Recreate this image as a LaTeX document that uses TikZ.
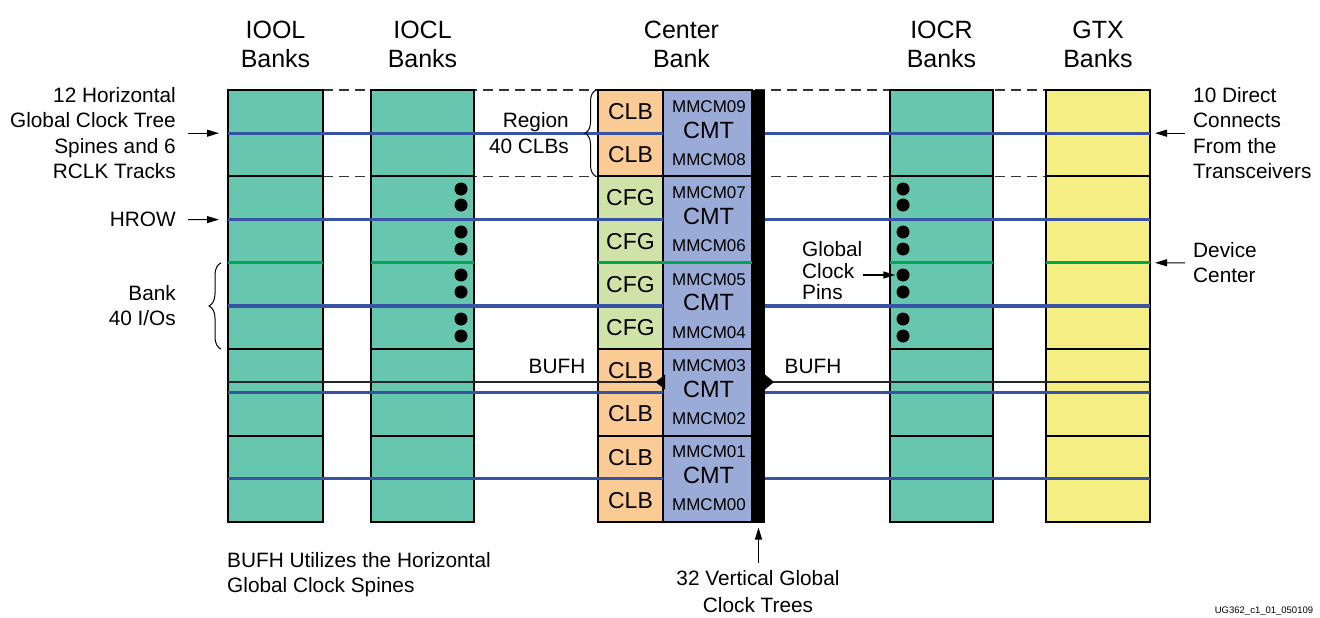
\documentclass[tikz,border=0pt]{standalone}
\usepackage{fontspec}
\setmainfont{Liberation Sans}
\usetikzlibrary{arrows.meta,decorations.pathreplacing}
\pgfdeclarelayer{bg}
\pgfsetlayers{bg,main}
\definecolor{iofill}{HTML}{66C6AE}
\definecolor{gtxfill}{HTML}{F5EE82}
\definecolor{clbfill}{HTML}{FBCB96}
\definecolor{cfgfill}{HTML}{CFE3A9}
\definecolor{cmtfill}{HTML}{9BABD7}
\definecolor{spinecol}{HTML}{3953A4}
\definecolor{devgreen}{HTML}{00A651}
\tikzset{
  bankcell/.style={draw=black, line width=2pt, minimum height=86.4pt, inner sep=0pt, outer sep=0pt},
  clbcell/.style={draw=black, line width=2pt, minimum width=65pt, minimum height=43.2pt, inner sep=0pt, outer sep=0pt, font=\fontsize{23}{27}\selectfont},
  cmtcell/.style={draw=black, line width=2pt, fill=cmtfill, minimum width=89pt, minimum height=86.4pt, inner sep=0pt, outer sep=0pt},
  mmcm/.style={inner sep=0pt, font=\fontsize{17}{20}\selectfont},
  cmtlab/.style={inner sep=0pt, font=\fontsize{23.5}{27}\selectfont},
  spineline/.style={draw=spinecol, line width=3.2pt},
  centerline/.style={draw=devgreen, line width=3.2pt},
  bufhline/.style={draw=black!85, line width=1.3pt},
  regdash/.style={draw=black!80, line width=1.1pt, dash pattern=on 10pt off 6pt},
  arr/.style={draw=black, line width=1.1pt, -{Triangle[length=12pt,width=7pt]}},
  lbl/.style={inner sep=0pt, font=\fontsize{20.8}{25.5}\selectfont},
  hdr/.style={inner sep=0pt, align=center, font=\fontsize{25}{29}\selectfont},
  pindot/.style={circle, fill=black, minimum size=13pt, inner sep=0pt},
  bracedeco/.style={draw=black, line width=1pt, decorate, decoration={brace, amplitude=#1}}
}
\begin{document}
\begin{tikzpicture}[x=1pt,y=-1pt]
\useasboundingbox (0,0) rectangle (1320,618);

% headers
\node[hdr] (h-ool) at (275.5,44.5) {IOOL\\Banks};
\node[hdr] (h-ocl) at (422.5,44.5) {IOCL\\Banks};
\node[hdr] (h-ctr) at (681.5,44.5) {Center\\Bank};
\node[hdr] (h-ocr) at (941.5,44.5) {IOCR\\Banks};
\node[hdr] (h-gtx) at (1098,44.5) {GTX\\Banks};

% bank columns
\foreach \nm/\cx/\w/\col in {ool/275.5/95/iofill, ocl/422.5/103/iofill, ocr/941.5/103/iofill, gtx/1098/104/gtxfill}{
  \foreach \r in {0,...,4}{
    \node[bankcell, minimum width=\w pt, fill=\col] (\nm-\r) at (\cx,{133.2+86.4*\r}) {};
  }
}

% center bank: CLB / CFG column
\foreach \i/\lab/\col in {0/CLB/clbfill,1/CLB/clbfill,2/CFG/cfgfill,3/CFG/cfgfill,4/CFG/cfgfill,5/CFG/cfgfill,6/CLB/clbfill,7/CLB/clbfill,8/CLB/clbfill,9/CLB/clbfill}{
  \node[clbcell, fill=\col] (clb-\i) at (630.5,{111.6+43.2*\i}) {\lab};
}
% CMT column
\foreach \r/\a/\b in {0/09/08,1/07/06,2/05/04,3/03/02,4/01/00}{
  \node[cmtcell] (cmt-\r) at (707.5,{133.2+86.4*\r}) {};
  \node[mmcm] (mm-\a) at (709,{106.5+86.4*\r}) {MMCM\a};
  \node[cmtlab] (cmtl-\r) at (708.5,{130+86.4*\r}) {CMT};
  \node[mmcm] (mm-\b) at (709,{159.5+86.4*\r}) {MMCM\b};
}

% region dashed lines (behind)
\begin{pgfonlayer}{bg}
  \draw[regdash] (ool-0.north east) -- (gtx-0.north west);
  \draw[regdash] (ool-0.south east) -- (gtx-0.south west);
\end{pgfonlayer}

% horizontal spines
\foreach \r in {0,...,4}{
  \draw[spineline] (ool-\r.west) -- (cmt-\r.west);
  \draw[spineline] (cmt-\r.east) -- (gtx-\r.east);
}

% device center line
\draw[centerline] (ool-1.south west) -- (ool-1.south east);
\draw[centerline] (ocl-1.south west) -- (ocl-1.south east);
\draw[centerline] (clb-3.south west) -- (cmt-1.south east);
\draw[centerline] (ocr-1.south west) -- (ocr-1.south east);
\draw[centerline] (gtx-1.south west) -- (gtx-1.south east);

% vertical global clock trees bar
\node[fill=black, minimum width=13pt, minimum height=433pt, inner sep=0pt, outer sep=0pt] (gbar) at (758.5,306) {};

% BUFH lines
\coordinate (bufhl) at (663.5,382);
\coordinate (bufhr) at (765,382);
\draw[bufhline] (ool-3.west |- bufhl) -- (bufhl);
\draw[bufhline] (bufhr) -- (gtx-3.east |- bufhr);
\fill[black] (bufhl) ++(1.5,-7.5) -- ++(-9.5,7.5) -- ++(9.5,7.5) -- cycle;
\fill[black] (bufhr) ++(0,-7.5) -- ++(9,7.5) -- ++(-9,7.5) -- cycle;
\node[lbl] (bufh-l) at (557,366) {BUFH};
\node[lbl] (bufh-r) at (813,366) {BUFH};

% global clock pins
\foreach \y [count=\k] in {189,205,232,249,275,292,319,336}{
  \node[pindot] (pl-\k) at (461,\y) {};
  \node[pindot] (pr-\k) at (903,\y) {};
}

% left labels
\node[lbl, anchor=east, align=right] (spines) at (176,133.2) {12 Horizontal\\Global Clock Tree\\Spines and 6\\RCLK Tracks};
\draw[arr] ([xshift=12pt]spines.east) -- ([xshift=-9pt]ool-0.west);
\node[lbl, anchor=east] (hrow) at (176,219.6) {HROW};
\draw[arr] ([xshift=12pt]hrow.east) -- ([xshift=-9pt]ool-1.west);
\node[lbl, anchor=east, align=right] (bank) at (176,305.5) {Bank\\40 I/Os};
\draw[bracedeco=12pt] ([xshift=-7pt]ool-2.south west) -- ([xshift=-7pt]ool-2.north west);

% region label
\node[lbl, anchor=east, align=right] (region) at (569,133.2) {Region\\40 CLBs};
\draw[bracedeco=11pt] ([xshift=-2pt]clb-1.south west) -- ([xshift=-2pt]clb-0.north west);

% right labels
\node[lbl, anchor=west, align=left] (direct) at (1193,133.2) {10 Direct\\Connects\\From the\\Transceivers};
\draw[arr] ([xshift=-8pt]direct.west) -- ([xshift=5pt]gtx-0.east);
\node[lbl, anchor=west, align=left] (device) at (1193,262.8) {Device\\Center};
\draw[arr] ([xshift=-8pt]device.west) -- ([xshift=5pt]gtx-1.south east);

\node[lbl, anchor=west, align=left, font=\fontsize{20.8}{21.5}\selectfont] (gcp) at (802,271) {Global\\Clock\\Pins};
\draw[arr] (pr-5.west -| gcp.east) -- ([xshift=-1pt]pr-5.west);

% bottom labels
\node[lbl, anchor=west, align=left] (bufhnote) at (227,574.5) {BUFH Utilizes the Horizontal\\Global Clock Spines};
\node[lbl, align=center, font=\fontsize{20.8}{26.5}\selectfont] (vert) at (758,591.5) {32 Vertical Global\\Clock Trees};
\draw[arr] (gbar.south |- vert.north) ++(0,-7) -- ([yshift=-5pt]gbar.south);

\node[inner sep=0pt, font=\fontsize{9.5}{11}\selectfont] (ug) at (1264,611) {UG362\_c1\_01\_050109};
\end{tikzpicture}
\end{document}
